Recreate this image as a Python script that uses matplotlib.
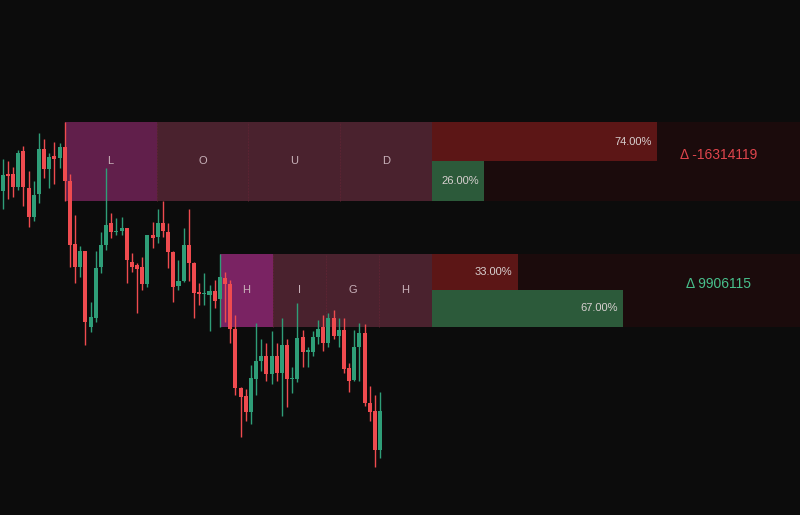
import numpy as np
import matplotlib.pyplot as plt

plt.rcParams['font.family'] = ['Liberation Sans', 'DejaVu Sans']

# candle data (oldest first)
opens = [409.3, 426.0, 426.0, 412.7, 449.0, 411.7, 383.3, 406.0, 451.0, 431.0,
         444.0, 441.7, 453.3, 419.0, 356.0, 333.3, 349.0, 273.3, 281.7, 333.3,
         355.0, 376.7, 368.3, 369.0, 371.7, 338.3, 335.0, 333.3, 315.7, 365.0,
         363.3, 376.7, 368.3, 347.7, 314.3, 319.0, 355.0, 336.7, 308.3, 305.7,
         305.0, 309.3, 300.7, 321.7, 316.0, 270.7, 211.7, 204.0, 188.3, 221.0,
         239.0, 244.0, 225.7, 244.0, 227.3, 255.0, 220.7, 220.7, 262.7, 248.3,
         248.3, 263.3, 272.7, 256.7, 281.7, 264.0, 270.0, 231.7, 220.0, 253.3,
         267.3, 197.3, 189.3, 150.0]
highs = [440.7, 439.0, 433.3, 450.0, 454.3, 429.0, 419.0, 466.7, 461.0, 446.7,
         457.7, 456.7, 478.3, 425.7, 385.0, 354.3, 349.0, 297.7, 349.0, 368.3,
         432.0, 386.7, 381.7, 383.3, 371.7, 346.7, 336.7, 343.3, 365.0, 377.7,
         391.0, 399.0, 376.7, 349.0, 340.0, 372.3, 391.0, 338.3, 316.7, 327.3,
         315.0, 320.0, 346.0, 328.3, 320.0, 285.0, 213.3, 210.7, 235.0, 276.7,
         260.7, 256.7, 269.3, 256.7, 281.7, 260.7, 233.3, 297.3, 270.0, 252.7,
         269.3, 280.0, 285.0, 287.3, 290.0, 281.7, 281.7, 236.7, 270.0, 276.7,
         276.0, 214.0, 205.0, 208.3]
lows = [390.7, 400.7, 403.3, 410.0, 394.3, 373.3, 379.0, 397.3, 421.7, 411.7,
        415.7, 431.7, 399.0, 333.3, 316.7, 323.3, 255.0, 267.7, 278.3, 326.7,
        350.0, 361.7, 365.0, 365.0, 316.7, 328.3, 286.7, 310.0, 313.3, 351.7,
        356.7, 363.3, 331.7, 297.7, 310.0, 318.3, 319.0, 281.7, 295.0, 295.0,
        269.3, 291.7, 273.5, 278.3, 257.3, 205.0, 162.7, 179.3, 176.0, 205.0,
        229.3, 219.3, 216.0, 219.3, 184.0, 193.3, 206.7, 218.3, 232.7, 233.3,
        244.0, 255.7, 249.0, 252.7, 260.7, 252.7, 227.3, 208.3, 219.3, 219.3,
        194.0, 179.3, 132.7, 141.7]
closes = [425.0, 424.3, 412.7, 447.3, 412.7, 383.3, 405.0, 451.0, 431.0, 442.7,
          441.3, 453.3, 419.0, 355.0, 333.3, 349.0, 278.3, 283.3, 331.7, 355.0,
          375.0, 368.3, 369.3, 372.3, 340.0, 333.3, 331.0, 315.7, 365.0, 361.7,
          376.7, 369.0, 347.7, 313.3, 319.0, 355.0, 336.7, 306.7, 305.7, 306.7,
          309.3, 299.3, 322.7, 315.7, 270.7, 211.7, 203.3, 188.3, 221.7, 239.0,
          244.0, 225.7, 244.0, 227.3, 255.0, 220.7, 221.7, 261.7, 248.3, 250.0,
          263.3, 271.0, 256.7, 281.7, 264.0, 270.0, 230.7, 219.0, 253.3, 267.3,
          197.3, 188.3, 150.0, 189.3]

# the two word boxes
words = ["LOUD", "HIGH"]
anchor_idx = [12, 42]
sell_vol = [21214119, 8100000]
buy_vol = [4900000, 18006115]
sell_pct = ["74.00%", "33.00%"]
buy_pct = ["26.00%", "67.00%"]

bg = "#0c0c0c"
up_col = "#2f9e78"
dn_col = "#ef4b4f"

fig = plt.figure(figsize=(8, 5.15), dpi=100, facecolor=bg)
ax = fig.add_axes([0, 0, 1, 1])
ax.set_facecolor(bg)
ax.set_xlim(-0.52, 154.2)
ax.set_ylim(85, 600)
ax.axis("off")

n = len(opens)
x = np.arange(n)
o = np.array(opens)
c = np.array(closes)
cols = np.where(c >= o, up_col, dn_col)

cells_end = n - 1 + 10
max_vol = max(max(sell_vol), max(buy_vol))
bar_span = 43.5

for k, word in enumerate(words):
    i0 = anchor_idx[k]
    top, bot = highs[i0], lows[i0]
    mid = (top + bot) / 2
    cw = (cells_end - i0) / len(word)
    for j, ch in enumerate(word):
        fc = ("#611f4b" if k == 0 else "#7a2363") if j == 0 else "#4a222e"
        ax.add_patch(plt.Rectangle((i0 + j * cw, bot), cw, top - bot,
                                   facecolor=fc, edgecolor="none", zorder=1))
        if j > 0:
            ax.plot([i0 + j * cw] * 2, [bot, top], color="#5b2433", lw=0.7,
                    ls=(0, (2, 1)), zorder=1.5)
        ax.text(i0 + (j + 0.5) * cw, mid, ch, color="#c9b2ba", fontsize=8,
                ha="center", va="center", zorder=2)
    # volume area
    ax.add_patch(plt.Rectangle((cells_end, bot), 160 - cells_end, top - bot,
                               facecolor="#1b0b0c", edgecolor="none", zorder=1))
    ws = sell_vol[k] / max_vol * bar_span
    wb = buy_vol[k] / max_vol * bar_span
    ax.add_patch(plt.Rectangle((cells_end, mid), ws, top - mid,
                               facecolor="#5c1616", edgecolor="none", zorder=1.2))
    ax.add_patch(plt.Rectangle((cells_end, bot), wb, mid - bot,
                               facecolor="#2c5a3a", edgecolor="none", zorder=1.2))
    ax.text(cells_end + ws - 1.0, (top + mid) / 2, sell_pct[k], color="#d8d0d0",
            fontsize=8, ha="right", va="center", zorder=2)
    ax.text(cells_end + wb - 1.0, (mid + bot) / 2, buy_pct[k], color="#d8d0d0",
            fontsize=8, ha="right", va="center", zorder=2)
    delta = buy_vol[k] - sell_vol[k]
    ax.text(138.4, mid + 6.5, "Δ %d" % delta,
            color="#48c08c" if delta > 0 else "#e0454c", fontsize=10,
            ha="center", va="center", zorder=2)

# candles on top of the boxes
ax.vlines(x, lows, highs, colors=cols, lw=1.0, zorder=3)
body_lo = np.minimum(o, c)
body_h = np.maximum(np.abs(c - o), 0.9)
ax.bar(x, body_h, bottom=body_lo, width=0.78, color=cols, edgecolor="none", zorder=4)

fig.savefig("out.png", dpi=100, facecolor=bg)
